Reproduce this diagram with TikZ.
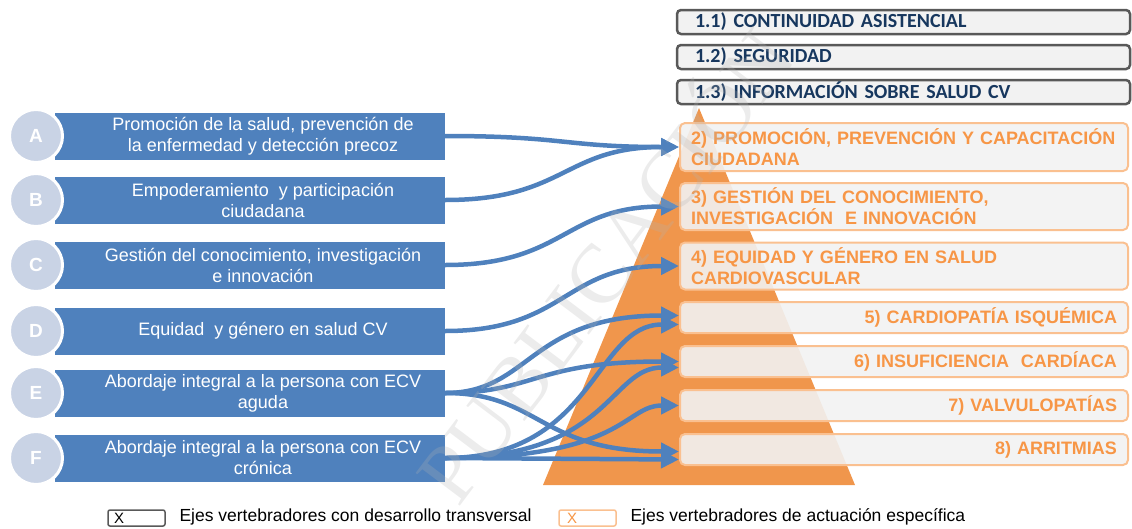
\documentclass[tikz,border=0pt]{standalone}
\usepackage{fontspec}
\setmainfont{Liberation Sans}
\newfontfamily\calibrifont{Carlito}
\newfontfamily\marcafont{Liberation Serif}
\usetikzlibrary{arrows.meta}

\definecolor{ejeazul}{RGB}{79,129,189}
\definecolor{letrafondo}{RGB}{201,211,229}
\definecolor{piramide}{RGB}{240,150,76}
\definecolor{naranja}{RGB}{247,150,70}
\definecolor{naranjaborde}{RGB}{250,192,144}
\definecolor{cajagris}{RGB}{242,242,242}
\definecolor{grisborde}{RGB}{89,89,89}
\definecolor{azuloscuro}{RGB}{23,55,94}

\begin{document}
\begin{tikzpicture}[x=1pt,y=-1pt,
    ejebox/.style={fill=ejeazul, minimum width=390pt, minimum height=47pt, inner sep=0pt},
    ejetext/.style={text=white, align=center, font=\fontsize{18}{21}\selectfont},
    letra/.style={circle, fill=letrafondo, draw=white, line width=3pt, minimum size=53pt,
      inner sep=0pt, text=white, font=\fontsize{19}{21}\selectfont\bfseries},
    especifico/.style={rounded corners=5pt, draw=naranjaborde, line width=2pt, fill=cajagris,
      fill opacity=0.9, text opacity=1, text=naranja, font=\fontsize{18}{21}\selectfont\bfseries,
      inner xsep=11pt, inner ysep=2pt, text width=426pt},
    transversal/.style={rounded corners=4pt, draw=grisborde, line width=2.5pt, fill=cajagris,
      text=azuloscuro, font=\calibrifont\fontsize{20}{22}\selectfont\bfseries,
      minimum height=24pt, inner xsep=18pt, inner ysep=0pt, text width=417pt, align=left},
    flecha/.style={draw=ejeazul, line width=4.5pt, -{Triangle[length=18pt,width=17pt]}},
    leyenda/.style={rounded corners=2pt, line width=1.5pt, fill=white, minimum width=57pt,
      minimum height=16pt, inner sep=0pt, font=\fontsize{15}{16}\selectfont},
    leyendatext/.style={anchor=west, font=\fontsize{17.5}{19}\selectfont}
  ]
  \useasboundingbox (0,0) rectangle (1132,528);

  % ejes de la izquierda
  \node[ejebox] (ba) at (250,136) {};
  \node[ejebox] (bb) at (250,200) {};
  \node[ejebox] (bc) at (250,265) {};
  \node[ejebox] (bd) at (250,331) {};
  \node[ejebox] (be) at (250,393) {};
  \node[ejebox] (bf) at (250,458) {};
  \foreach \l/\y in {A/136,B/200,C/265,D/331,E/393,F/458}
    \node[letra] (l\l) at (36,\y) {\l};
  \node[ejetext] (ta) at ([xshift=13pt]ba.center) {Promoción de la salud, prevención de\\la enfermedad y detección precoz};
  \node[ejetext] (tb) at ([xshift=13pt]bb.center) {Empoderamiento \ y participación\\ciudadana};
  \node[ejetext] (tc) at ([xshift=13pt]bc.center) {Gestión del conocimiento, investigación\\e innovación};
  \node[ejetext] (td) at ([xshift=13pt]bd.center) {Equidad \ y género en salud CV};
  \node[ejetext] (te) at ([xshift=13pt]be.center) {Abordaje integral a la persona con ECV\\aguda};
  \node[ejetext] (tf) at ([xshift=13pt]bf.center) {Abordaje integral a la persona con ECV\\crónica};

  % piramide y ejes de la derecha
  \fill[piramide] (699,108) -- (855,485) -- (543,485) -- cycle;
  \node[transversal] (c11) at (903.5,22) {1.1) CONTINUIDAD ASISTENCIAL};
  \node[transversal] (c12) at (903.5,57) {1.2) SEGURIDAD};
  \node[transversal] (c13) at (903.5,92) {1.3) INFORMACIÓN SOBRE SALUD CV};
  \node[especifico, minimum height=48pt, align=left] (c2) at (904,147) {2) PROMOCIÓN, PREVENCIÓN Y CAPACITACIÓN\\CIUDADANA};
  \node[especifico, minimum height=47pt, align=left] (c3) at (904,206.5) {3) GESTIÓN DEL CONOCIMIENTO,\\INVESTIGACIÓN \ E INNOVACIÓN};
  \node[especifico, minimum height=47pt, align=left] (c4) at (904,266) {4) EQUIDAD Y GÉNERO EN SALUD\\CARDIOVASCULAR};
  \node[especifico, minimum height=31pt, align=right] (c5) at (904,317.5) {5) CARDIOPATÍA ISQUÉMICA};
  \node[especifico, minimum height=31pt, align=right] (c6) at (904,361.5) {6) INSUFICIENCIA \ CARDÍACA};
  \node[especifico, minimum height=31pt, align=right] (c7) at (904,405.5) {7) VALVULOPATÍAS};
  \node[especifico, minimum height=31pt, align=right] (c8) at (904,449.5) {8) ARRITMIAS};

  % flechas
  \draw[flecha] (ba.east) .. controls +(120,0) and +(-115,0) .. (c2.west);
  \draw[flecha] (bb.east) .. controls +(120,0) and +(-115,0) .. (c2.west);
  \draw[flecha] (bc.east) .. controls +(120,0) and +(-115,0) .. (c3.west);
  \draw[flecha] (bd.east) .. controls +(120,0) and +(-115,0) .. (c4.west);
  \draw[flecha] (be.east) .. controls +(85,0) and +(-150,0) .. ([yshift=2pt]c5.west);
  \draw[flecha] (be.east) .. controls +(90,0) and +(-145,0) .. (c6.west);
  \draw[flecha] (be.east) .. controls +(95,0) and +(-140,0) .. ([yshift=-2pt]c8.west);
  \draw[flecha] (bf.east) .. controls +(150,0) and +(-85,0) .. ([yshift=-7pt]c5.west);
  \draw[flecha] (bf.east) .. controls +(165,0) and +(-70,0) .. ([yshift=-6pt]c6.west);
  \draw[flecha] (bf.east) .. controls +(180,0) and +(-55,0) .. (c7.west);
  \draw[flecha] (bf.east) -- ([yshift=-10pt]c8.west);

  % leyenda
  \node[leyenda, draw=grisborde, text width=45pt, inner xsep=6pt, align=left] (lg1) at (136.5,518) {X};
  \node[leyendatext] (tg1) at (176,517) {Ejes vertebradores con desarrollo transversal};
  \node[leyenda, draw=naranjaborde, text=naranja, text width=41pt, inner xsep=8pt, align=left] (lg2) at (587.5,518) {X};
  \node[leyendatext] (tg2) at (627,517) {Ejes vertebradores de actuación específica};

  % marca de agua
  \node[rotate=53, text=black!30, opacity=0.25, font=\marcafont\fontsize{84}{84}\selectfont] (marca) at (600,262) {PUBLICACIÓN};
\end{tikzpicture}
\end{document}
